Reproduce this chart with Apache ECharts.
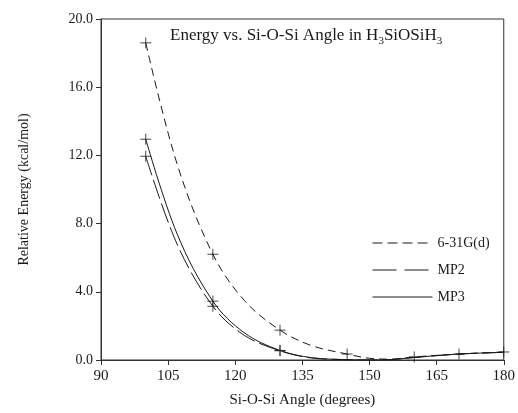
<!DOCTYPE html>
<html>
<head>
<meta charset="utf-8">
<script src="https://cdn.jsdelivr.net/npm/echarts@6/dist/echarts.min.js"></script>
<style>
  html, body { margin: 0; padding: 0; background: #fff; }
  #chart { width: 518px; height: 413px; }
</style>
</head>
<body>
<div id="chart"></div>
<script>
// curve points (angle in degrees, energy in kcal/mol)
var curveAngles631 = [100, 107, 115, 122, 130, 137, 145, 150, 155, 160, 170, 180];
var curve631 = [18.6, 11.5, 6.2, 3.5, 1.75, 0.85, 0.35, 0.1, 0.05, 0.18, 0.35, 0.47];

var curveAnglesMP = [100, 107, 115, 122, 130, 137, 145, 150, 155, 160, 170, 180];
var curveMP2 = [11.95, 6.8, 3.15, 1.45, 0.54, 0.12, 0.02, 0.0, 0.03, 0.15, 0.35, 0.45];
var curveMP3 = [12.95, 7.4, 3.45, 1.6, 0.56, 0.14, 0.02, 0.0, 0.03, 0.15, 0.35, 0.45];

// computed points drawn as crosses
var crossAngles631 = [100, 115, 130, 145, 160, 170, 180];
var cross631 = [18.6, 6.2, 1.75, 0.35, 0.18, 0.35, 0.47];
var crossAnglesMP = [100, 115, 130];
var crossMP2 = [11.95, 3.15, 0.54];
var crossMP3 = [12.95, 3.45, 0.56];

var xTicks = [90, 105, 120, 135, 150, 165, 180];

var serif = 'Liberation Serif';
var ink = '#1a1a1a';

function pairs(xs, ys) {
	var out = [];
	for (var i = 0; i < xs.length; i++) {
		out.push([xs[i], ys[i]]);
	}
	return out;
}

var crossSymbol = 'path://M0,5L10,5M5,0L5,10';

var dash631 = [8, 5];
var dashMP2 = [20, 5];

function curve(name, xs, ys, dash) {
	return {
		name: name,
		type: 'line',
		data: pairs(xs, ys),
		smooth: 0.35,
		symbol: 'none',
		lineStyle: { color: ink, width: 1, type: dash },
		itemStyle: { color: ink },
		z: 3
	};
}

function crosses(xs, ys) {
	return {
		type: 'scatter',
		data: pairs(xs, ys),
		symbol: crossSymbol,
		symbolSize: 11,
		itemStyle: { color: 'none', borderColor: ink, borderWidth: 1 },
		silent: true,
		z: 4
	};
}

var myChart = echarts.init(document.getElementById('chart'));

myChart.setOption({
	animation: false,
	textStyle: { fontFamily: serif, color: ink },
	title: {
		text: '{t|Energy vs. Si-O-Si Angle in H}{s|3}{t|SiOSiH}{s|3}',
		left: 165,
		top: 22,
		textStyle: {
			fontWeight: 'normal',
			rich: {
				t: { fontFamily: serif, fontSize: 17, fontWeight: 'normal', color: ink, lineHeight: 18, verticalAlign: 'top' },
				s: { fontFamily: serif, fontSize: 11, fontWeight: 'normal', color: ink, lineHeight: 12, padding: [9, 0, 0, 0], verticalAlign: 'top' }
			}
		}
	},
	legend: {
		orient: 'vertical',
		left: 367,
		top: 231,
		itemWidth: 60,
		itemHeight: 10,
		itemGap: 13,
		itemStyle: { opacity: 0 },
		data: [
			{ name: '6-31G(d)', lineStyle: { type: [10, 5], color: ink, width: 1 } },
			{ name: 'MP2', lineStyle: { type: [24, 8], color: ink, width: 1 } },
			{ name: 'MP3', lineStyle: { type: 'solid', color: ink, width: 1 } }
		],
		textStyle: { fontFamily: serif, fontSize: 14, color: ink }
	},
	grid: {
		left: 101,
		right: 12,
		top: 19,
		bottom: 52,
		show: true,
		borderColor: '#333',
		borderWidth: 1
	},
	xAxis: {
		type: 'value',
		min: 90,
		max: 180,
		interval: 15,
		name: 'Si-O-Si Angle (degrees)',
		nameLocation: 'middle',
		nameGap: 33,
		nameTextStyle: { fontFamily: serif, fontSize: 15, color: ink },
		axisLine: { lineStyle: { color: '#333' } },
		axisTick: { length: 5, lineStyle: { color: '#333' } },
		axisLabel: {
			fontFamily: serif, fontSize: 15, color: ink, margin: 9,
			customValues: xTicks
		},
		splitLine: { show: false }
	},
	yAxis: {
		type: 'value',
		min: 0,
		max: 20,
		interval: 4,
		name: 'Relative Energy (kcal/mol)',
		nameLocation: 'middle',
		nameGap: 70,
		nameTextStyle: { fontFamily: serif, fontSize: 14, color: ink },
		axisLine: { show: true, lineStyle: { color: '#333' } },
		axisTick: { show: true, length: 5, lineStyle: { color: '#333' } },
		axisLabel: {
			fontFamily: serif, fontSize: 14, color: ink, margin: 8,
			formatter: function (v) { return v.toFixed(1); }
		},
		splitLine: { show: false }
	},
	series: [
		curve('6-31G(d)', curveAngles631, curve631, dash631),
		curve('MP2', curveAnglesMP, curveMP2, dashMP2),
		curve('MP3', curveAnglesMP, curveMP3, 'solid'),
		crosses(crossAngles631, cross631),
		crosses(crossAnglesMP, crossMP2),
		crosses(crossAnglesMP, crossMP3)
	]
});
</script>
</body>
</html>
